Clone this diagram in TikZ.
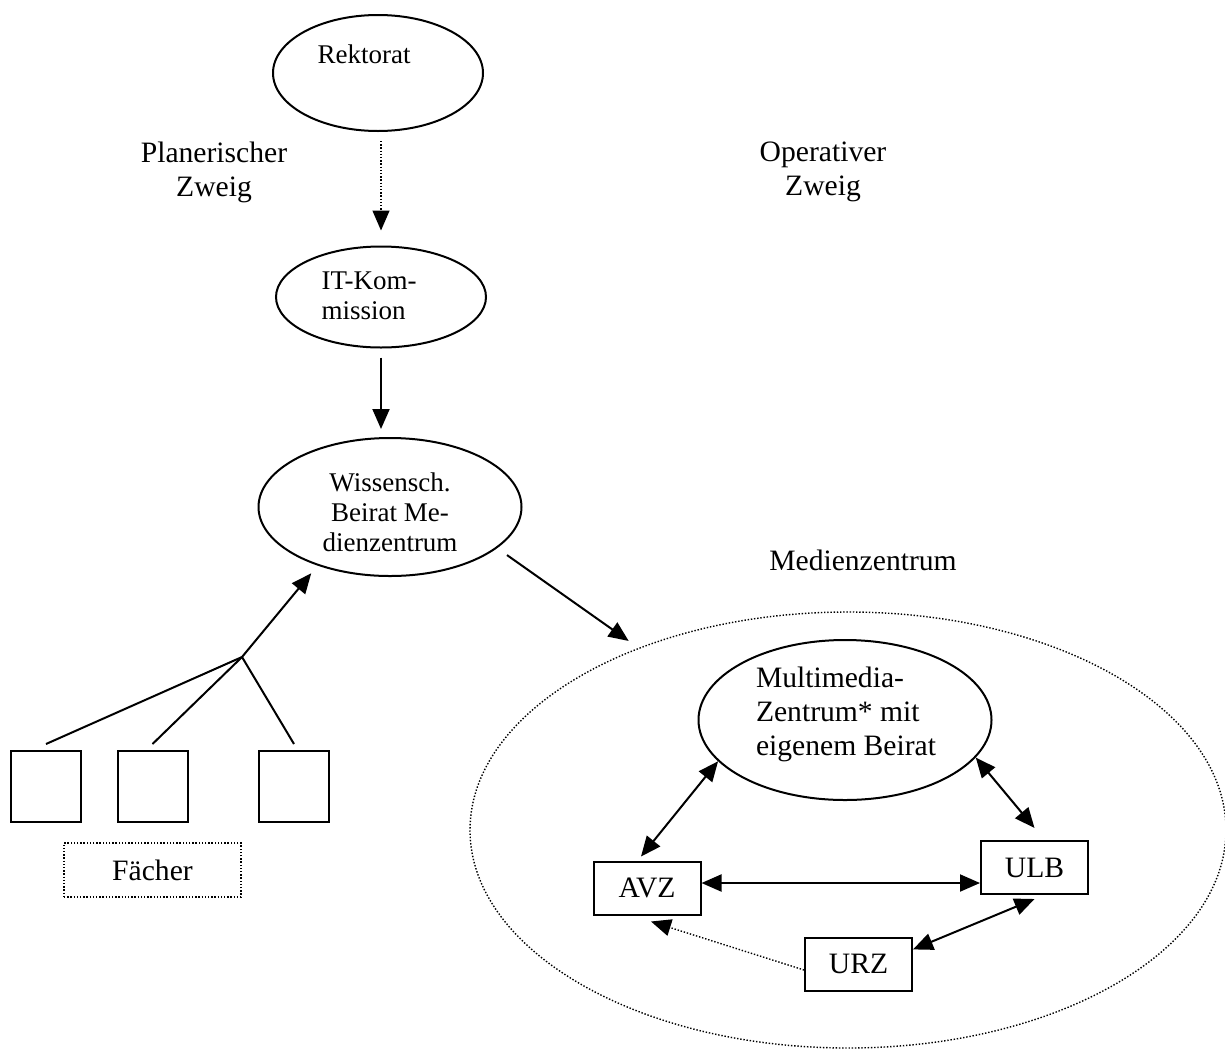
\documentclass[tikz,border=0pt]{standalone}
\usepackage{fontspec}
\setmainfont{Liberation Serif}
\usetikzlibrary{arrows.meta,shapes.geometric}

\begin{document}
\begin{tikzpicture}[x=0.5pt, y=-0.5pt,
    line width=1pt,
    >={Triangle[length=10pt,width=8.5pt]},
    gremium/.style={ellipse,
      draw = black,
      line width = 1pt,
      inner sep = 0pt},
    einheit/.style={rectangle,
      draw = black,
      line width = 1pt,
      minimum width = 53.5pt,
      minimum height = 26.5pt,
      font = \fontsize{14.8}{17}\selectfont},
    fach/.style={rectangle,
      draw = black,
      minimum width = 35pt,
      minimum height = 35.5pt},
    punktiert/.style={line width = 0.7pt, dash pattern = on 0.7pt off 0.9pt},
    gross/.style={font = \fontsize{14.8}{17}\selectfont, align = center, inner sep = 0pt},
    klein/.style={font = \fontsize{13.5}{15}\selectfont, inner sep = 0pt},
  ]
  \useasboundingbox (0,0) rectangle (1225,1050);

  % the planning branch
  \node[gremium, minimum width = 105pt, minimum height = 58pt] (rektorat) at (378,73) {};
  \node[klein] (rektorat-text) at (364,54) {Rektorat};
  \node[gremium, minimum width = 105pt, minimum height = 50.5pt] (itkom) at (381,297) {};
  \node[klein, align = left] (itkom-text) at (369,296) {IT-Kom-\\mission};
  \node[gremium, minimum width = 131.5pt, minimum height = 69pt] (wbeirat) at (390,507) {};
  \node[klein, align = center] (wbeirat-text) at (390,512) {Wissensch.\\Beirat Me-\\dienzentrum};

  \node[gross] (planung) at (214,172) {Planerischer\\Zweig};
  \node[gross] (operativ) at (823,172) {Operativer\\Zweig};

  \draw [->, punktiert] (itkom.north |- rektorat.south) ++(0,9) -- ([yshift=7.5pt]itkom.north);
  \draw [->] ([yshift=-4.5pt]itkom.south) -- ([yshift=4pt]itkom.south |- wbeirat.north);

  % the subjects
  \node[fach] (fach-a) at (46,786.5) {};
  \node[fach] (fach-b) at (152.5,786.5) {};
  \node[fach] (fach-c) at (294,786.5) {};
  \node[gross, draw = black, punktiert, minimum width = 88.5pt, minimum height = 27pt] (faecher) at (152.5,870) {Fächer};
  \coordinate (knoten) at (242,657);
  \draw (fach-a.north) ++(0,-6) -- (knoten);
  \draw (fach-b.north) ++(0,-6) -- (knoten);
  \draw (fach-c.north) ++(0,-6) -- (knoten);
  \draw [->, shorten >=5pt] (knoten) -- (wbeirat.219);

  % now the operative branch
  \node[gross] (mz-titel) at (863,560) {Medienzentrum};
  \node[ellipse, draw = black, punktiert, minimum width = 378pt, minimum height = 218pt] (mz-area) at (848,830) {};
  \draw [->, shorten <=6pt, shorten >=6pt] (wbeirat.-21) -- (mz-area.139);

  \node[gremium, minimum width = 146.5pt, minimum height = 80pt] (mm) at (845,720) {};
  \node[gross, align = left] (mm-text) at (846,714) {Multimedia-\\Zentrum* mit\\eigenem Beirat};
  \node[einheit] (avz) at (647,888) {AVZ};
  \node[einheit] (ulb) at (1034.5,867.5) {ULB};
  \node[einheit] (urz) at (858.5,964) {URZ};

  \draw [<->] (mm.198) -- ([xshift=-3pt,yshift=2pt]avz.north);
  \draw [<->] (mm.-16) -- ([yshift=6pt]ulb.north);
  \draw [<->] ([yshift=2.5pt]avz.east) -- ([yshift=2.5pt]avz.east -| ulb.west);
  \draw [<->] (urz.15) -- ([yshift=-2pt]ulb.south);
  \draw [->, punktiert] ([yshift=-3pt]urz.west) -- ([xshift=2pt,yshift=-3pt]avz.south);

\end{tikzpicture}
\end{document}
